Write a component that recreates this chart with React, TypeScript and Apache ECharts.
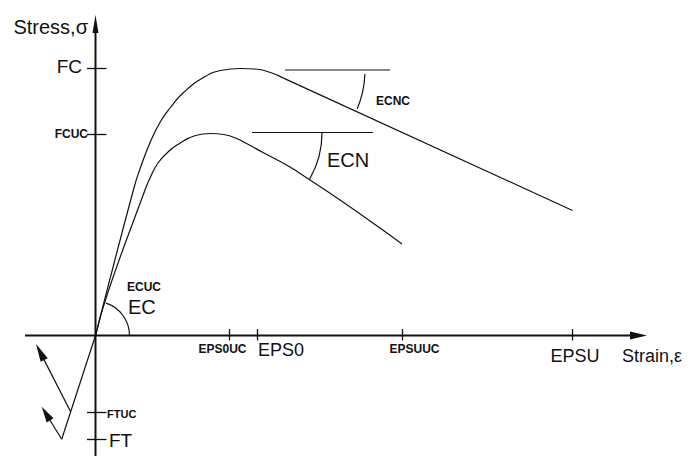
import React, { useEffect, useRef } from "react";
import * as echarts from "echarts";

// Schematic stress-strain diagram (units: arbitrary, origin at the axes' crossing)
// confined concrete: rising branch, then linear softening branch
const outerStrain = [0, 38, 45, 55, 65, 75, 88, 108, 125, 145, 160, 175, 188];
const outerStress = [0, 146, 168, 194, 214, 228, 243, 258, 265, 267, 266.5, 263, 257.4];
const outerSoftStrain = [188, 477];
const outerSoftStress = [257.4, 125];
// unconfined concrete
const innerStrain = [0, 12.5, 49.5, 54.5, 62.5, 71.5, 81.5, 100, 115, 128, 140, 152, 167.5, 194.5, 214.5, 244.5, 284.5, 306.5];
const innerStress = [0, 43.5, 145.5, 157.5, 172.5, 182.5, 190.5, 200, 202, 201, 197.5, 191.5, 183, 168.5, 155.5, 135.5, 107.5, 91.5];
const tensionStrain = [0, -33.8];
const tensionStress = [0, -103.8];

const strainTicks = [134, 162, 307, 477];
const strainTickLabels = ["EPS0UC", "EPS0", "EPSUUC", "EPSU"];
const stressTicks = [267, 201, -77, -104];
const stressTickLabels = ["FC", "FCUC", "FTUC", "FT"];

// reference (horizontal) lines for the descending slopes
const refLineStart = [189.5, 156.5];
const refLineEnd = [294.5, 277.5];
const refLineStress = [265.5, 203];

// arcs: center strain, center stress, radius, start angle, end angle (deg)
const arcCenterStrain = [0, 134.5, 168.5];
const arcCenterStress = [0, 202.5, 265.5];
const arcRadius = [34, 92, 101];
const arcFrom = [0, -30, -22.5];
const arcTo = [72, 0, -2.3];

// arrows: from (strain, stress) to (strain, stress)
const arrowFromStrain = [-70.5, 0, -25, -33.8];
const arrowFromStress = [0, -120.5, -76, -103.8];
const arrowToStrain = [551.5, 0, -59.5, -53.8];
const arrowToStress = [0, 320.5, -8.5, -71.2];

// annotation texts
const noteTexts = ["Stress,σ", "Strain,ε", "ECUC", "EC", "ECNC", "ECN"];
const noteStrain = [-7.5, 526.5, 31.5, 32.5, 280.5, 231.5];
const noteStress = [308.5, -20, 48.5, 29, 234.5, 176];

// ---- styling / layout (not data) ----
const FONT = "'Liberation Sans', Arial, sans-serif";
const BIG = { fontSize: 18, fontWeight: "normal" as const };
const SMALL = { fontSize: 12, fontWeight: "bold" as const };
const INK = "#111";

const arrowStyle = [
  { head: 17, w: 8, lw: 2 },
  { head: 18, w: 6, lw: 2 },
  { head: 18, w: 8, lw: 1.2 },
  { head: 16, w: 8, lw: 1.2 },
];
const noteStyle: any[] = [
  { ...BIG, fontSize: 20, align: "right" },
  { ...BIG, align: "left" },
  { ...SMALL, align: "left" },
  { ...BIG, fontSize: 20, align: "left" },
  { ...SMALL, align: "left" },
  { ...BIG, fontSize: 20, align: "left" },
];
// x tick label layout: dx from tick, y offset below axis, align, size
const xTickLayout: any[] = [
  { dx: -7, dy: 13.5, align: "center", s: SMALL },
  { dx: 0.5, dy: 14, align: "left", s: BIG },
  { dx: 12, dy: 13.5, align: "center", s: SMALL },
  { dx: 2.5, dy: 20, align: "center", s: BIG },
];
const yTickLayout: any[] = [
  { dx: -13.5, dy: -2, align: "right", s: { ...BIG, fontSize: 19 } },
  { dx: -7.5, dy: -1, align: "right", s: SMALL },
  { dx: 11.5, dy: 1.3, align: "left", s: { ...SMALL, fontSize: 11 } },
  { dx: 13.5, dy: 0.7, align: "left", s: { ...BIG, fontSize: 19 } },
];

const zip = (a: number[], b: number[]) => a.map((v, i) => [v, b[i]]);

export default function App() {
  const ref = useRef<HTMLDivElement>(null);
  useEffect(() => {
    if (!ref.current) return;
    const chart = echarts.init(ref.current, undefined, { renderer: "svg" });
    const lineBase = {
      type: "line",
      symbol: "none",
      showSymbol: false,
      silent: true,
      lineStyle: { color: INK, width: 1.2 },
    };
    const text = (x: number, y: number, t: string, s: any, align: string) => ({
      type: "text",
      x,
      y,
      style: {
        text: t,
        fill: INK,
        fontFamily: FONT,
        fontSize: s.fontSize,
        fontWeight: s.fontWeight,
        align,
        verticalAlign: "middle",
      },
    });
    const option: any = {
      animation: false,
      backgroundColor: "#fff",
      grid: { left: 0, right: 0, top: 0, bottom: 0, containLabel: false },
      xAxis: { type: "value", min: -95.5, max: 595.5, show: false },
      yAxis: { type: "value", min: -120.5, max: 335.5, show: false },
      series: [
        { ...lineBase, name: "outer", data: zip(outerStrain, outerStress), smooth: 0.5 },
        { ...lineBase, name: "outerSoft", data: zip(outerSoftStrain, outerSoftStress) },
        { ...lineBase, name: "inner", data: zip(innerStrain, innerStress), smooth: 0.5 },
        { ...lineBase, name: "tension", data: zip(tensionStrain, tensionStress) },
        ...refLineStress.map((v, i) => ({
          ...lineBase,
          name: "ref" + i,
          data: [
            [refLineStart[i], v],
            [refLineEnd[i], v],
          ],
        })),
        {
          type: "custom",
          name: "arcs",
          silent: true,
          data: arcRadius.map((r, i) => [arcCenterStrain[i], arcCenterStress[i], r, arcFrom[i], arcTo[i]]),
          encode: { x: 0, y: 1 },
          renderItem: (params: any, api: any) => {
            const c = api.coord([api.value(0), api.value(1)]);
            const r = api.size([api.value(2), 0])[0];
            const a1 = (api.value(3) * Math.PI) / 180;
            const a2 = (api.value(4) * Math.PI) / 180;
            return {
              type: "arc",
              shape: { cx: c[0], cy: c[1], r, startAngle: -a2, endAngle: -a1, clockwise: true },
              style: { stroke: INK, fill: "none", lineWidth: 1.2 },
            };
          },
        },
        {
          type: "custom",
          name: "arrows",
          silent: true,
          data: arrowFromStrain.map((x, i) => [x, arrowFromStress[i], arrowToStrain[i], arrowToStress[i]]),
          encode: { x: [0, 2], y: [1, 3] },
          renderItem: (params: any, api: any) => {
            const p1 = api.coord([api.value(0), api.value(1)]);
            const p2 = api.coord([api.value(2), api.value(3)]);
            const st = arrowStyle[params.dataIndex];
            const dx = p2[0] - p1[0];
            const dy = p2[1] - p1[1];
            const len = Math.hypot(dx, dy);
            const ux = dx / len;
            const uy = dy / len;
            const bx = p2[0] - ux * st.head;
            const by = p2[1] - uy * st.head;
            const nx = -uy;
            const ny = ux;
            return {
              type: "group",
              children: [
                {
                  type: "line",
                  shape: { x1: p1[0], y1: p1[1], x2: bx + ux * 3, y2: by + uy * 3 },
                  style: { stroke: INK, lineWidth: st.lw },
                },
                {
                  type: "polygon",
                  shape: {
                    points: [
                      [p2[0], p2[1]],
                      [bx + (nx * st.w) / 2, by + (ny * st.w) / 2],
                      [bx - (nx * st.w) / 2, by - (ny * st.w) / 2],
                    ],
                  },
                  style: { fill: INK },
                },
              ],
            };
          },
        },
        {
          type: "custom",
          name: "strainTicks",
          silent: true,
          data: strainTicks.map((v) => [v, 0]),
          encode: { x: 0, y: 1 },
          renderItem: (params: any, api: any) => {
            const p = api.coord([api.value(0), api.value(1)]);
            const L = xTickLayout[params.dataIndex];
            return {
              type: "group",
              children: [
                { type: "line", shape: { x1: p[0], y1: p[1] - 6.5, x2: p[0], y2: p[1] + 5 }, style: { stroke: INK, lineWidth: 1.3 } },
                text(p[0] + L.dx, p[1] + L.dy, strainTickLabels[params.dataIndex], L.s, L.align),
              ],
            };
          },
        },
        {
          type: "custom",
          name: "stressTicks",
          silent: true,
          data: stressTicks.map((v) => [0, v]),
          encode: { x: 0, y: 1 },
          renderItem: (params: any, api: any) => {
            const p = api.coord([api.value(0), api.value(1)]);
            const L = yTickLayout[params.dataIndex];
            return {
              type: "group",
              children: [
                { type: "line", shape: { x1: p[0] - 8.5, y1: p[1], x2: p[0] + 11, y2: p[1] }, style: { stroke: INK, lineWidth: 1.3 } },
                text(p[0] + L.dx, p[1] + L.dy, stressTickLabels[params.dataIndex], L.s, L.align),
              ],
            };
          },
        },
        {
          type: "custom",
          name: "notes",
          silent: true,
          data: noteStrain.map((x, i) => [x, noteStress[i]]),
          encode: { x: 0, y: 1 },
          renderItem: (params: any, api: any) => {
            const p = api.coord([api.value(0), api.value(1)]);
            const s = noteStyle[params.dataIndex];
            return text(p[0], p[1], noteTexts[params.dataIndex], s, s.align);
          },
        },
      ],
    };
    chart.setOption(option);
    return () => chart.dispose();
  }, []);
  return (
    <div
      ref={ref}
      style={{ position: "absolute", left: 0, top: 0, width: 691, height: 456, background: "#fff" }}
    />
  );
}
